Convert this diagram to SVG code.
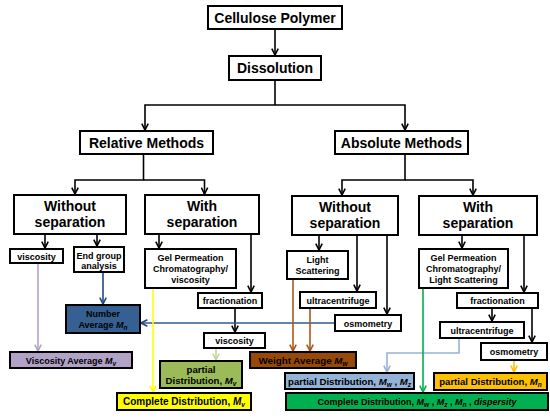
<svg xmlns="http://www.w3.org/2000/svg" width="550" height="420" viewBox="0 0 550 420">
<style>
text{font-family:"Liberation Sans",Arial,sans-serif;font-weight:bold;fill:#000;text-anchor:middle}
.big{font-size:14px}
.sm{font-size:9px}
.res{font-size:9.6px}
.box{fill:#fff;stroke:#000;stroke-width:2}
.c{fill:none;stroke-width:1.6}
.k{stroke:#000}
.i{font-style:italic}
.sub{font-style:italic;font-size:6.5px}
</style>
<defs>
<marker id="aK" viewBox="0 0 10 10" refX="9" refY="5" markerWidth="8" markerHeight="8" markerUnits="userSpaceOnUse" orient="auto"><path d="M1,1 L9,5 L1,9" fill="none" stroke="#000" stroke-width="2"/></marker>
<marker id="aP" viewBox="0 0 10 10" refX="9" refY="5" markerWidth="8" markerHeight="8" markerUnits="userSpaceOnUse" orient="auto"><path d="M1,1 L9,5 L1,9" fill="none" stroke="#B3A2C7" stroke-width="2"/></marker>
<marker id="aN" viewBox="0 0 10 10" refX="9" refY="5" markerWidth="8" markerHeight="8" markerUnits="userSpaceOnUse" orient="auto"><path d="M1,1 L9,5 L1,9" fill="none" stroke="#1F497D" stroke-width="2"/></marker>
<marker id="aY" viewBox="0 0 10 10" refX="9" refY="5" markerWidth="8" markerHeight="8" markerUnits="userSpaceOnUse" orient="auto"><path d="M1,1 L9,5 L1,9" fill="none" stroke="#FFFF00" stroke-width="2"/></marker>
<marker id="aLG" viewBox="0 0 10 10" refX="9" refY="5" markerWidth="8" markerHeight="8" markerUnits="userSpaceOnUse" orient="auto"><path d="M1,1 L9,5 L1,9" fill="none" stroke="#C3D69B" stroke-width="2"/></marker>
<marker id="aB" viewBox="0 0 10 10" refX="9" refY="5" markerWidth="8" markerHeight="8" markerUnits="userSpaceOnUse" orient="auto"><path d="M1,1 L9,5 L1,9" fill="none" stroke="#A8581C" stroke-width="2"/></marker>
<marker id="aLB" viewBox="0 0 10 10" refX="9" refY="5" markerWidth="8" markerHeight="8" markerUnits="userSpaceOnUse" orient="auto"><path d="M1,1 L9,5 L1,9" fill="none" stroke="#95B3D7" stroke-width="2"/></marker>
<marker id="aO" viewBox="0 0 10 10" refX="9" refY="5" markerWidth="8" markerHeight="8" markerUnits="userSpaceOnUse" orient="auto"><path d="M1,1 L9,5 L1,9" fill="none" stroke="#FFC000" stroke-width="2"/></marker>
<marker id="aG" viewBox="0 0 10 10" refX="9" refY="5" markerWidth="8" markerHeight="8" markerUnits="userSpaceOnUse" orient="auto"><path d="M1,1 L9,5 L1,9" fill="none" stroke="#00B050" stroke-width="2"/></marker>
</defs>
<rect width="550" height="420" fill="#fff"/>
<g id="connectors">
<path class="c k" d="M275,29.5 V55" marker-end="url(#aK)"/>
<path class="c k" d="M275,80 V105"/>
<path class="c k" d="M275,105 H145 V130" marker-end="url(#aK)"/>
<path class="c k" d="M275,105 H405 V130" marker-end="url(#aK)"/>
<path class="c k" d="M143.5,154 V180 H75 V194" marker-end="url(#aK)"/>
<path class="c k" d="M143.5,180 H204.5 V194" marker-end="url(#aK)"/>
<path class="c k" d="M405,154 V180 H342 V195" marker-end="url(#aK)"/>
<path class="c k" d="M405,180 H473 V195" marker-end="url(#aK)"/>
<path class="c k" d="M45,234 V248" marker-end="url(#aK)"/>
<path class="c k" d="M97,234 V246" marker-end="url(#aK)"/>
<path class="c k" d="M159,234 V248" marker-end="url(#aK)"/>
<path class="c k" d="M251,234 V292" marker-end="url(#aK)"/>
<path class="c k" d="M235,308 V332" marker-end="url(#aK)"/>
<path class="c k" d="M319,235 V250" marker-end="url(#aK)"/>
<path class="c k" d="M357,235 V291" marker-end="url(#aK)"/>
<path class="c k" d="M387,235 V314" marker-end="url(#aK)"/>
<path class="c k" d="M462,235 V248" marker-end="url(#aK)"/>
<path class="c k" d="M524,235 V292" marker-end="url(#aK)"/>
<path class="c k" d="M492,308 V321" marker-end="url(#aK)"/>
<path class="c k" d="M532,308 V342" marker-end="url(#aK)"/>
<path class="c" stroke="#B3A2C7" d="M38,263 V351" marker-end="url(#aP)"/>
<path class="c" stroke="#1F497D" d="M103,272 V304" marker-end="url(#aN)"/>
<path class="c" stroke="#2F5D8C" d="M335,323 H141" marker-end="url(#aN)"/>
<path class="c" stroke="#FFFF00" d="M153,288 V392" marker-end="url(#aY)"/>
<path class="c" stroke="#C3D69B" d="M216,348 V360" marker-end="url(#aLG)"/>
<path class="c" stroke="#A8581C" d="M293,279 V351" marker-end="url(#aB)"/>
<path class="c" stroke="#A8581C" d="M310,308 V351" marker-end="url(#aB)"/>
<path class="c" stroke="#95B3D7" d="M459,338 V353 H387 V372" marker-end="url(#aLB)"/>
<path class="c" stroke="#FFC000" d="M514,360 V372" marker-end="url(#aO)"/>
<path class="c" stroke="#00B050" d="M423,288 V392" marker-end="url(#aG)"/>
</g>
<g id="cellulose"><rect class="box" x="208" y="6" width="134" height="23"/><text class="big" x="275" y="22.5">Cellulose Polymer</text></g>
<g id="dissolution"><rect class="box" x="229" y="56" width="92" height="24"/><text class="big" x="275" y="73">Dissolution</text></g>
<g id="relative"><rect class="box" x="80" y="131" width="133" height="23"/><text class="big" x="146.5" y="147.5">Relative Methods</text></g>
<g id="absolute"><rect class="box" x="335" y="131" width="133" height="23"/><text class="big" x="401.5" y="147.5">Absolute Methods</text></g>
<g id="rel-without"><rect class="box" x="14" y="195" width="112" height="39"/><text class="big" x="70" y="211">Without</text><text class="big" x="70" y="227">separation</text></g>
<g id="rel-with"><rect class="box" x="145" y="195" width="114" height="39"/><text class="big" x="202" y="211">With</text><text class="big" x="202" y="227">separation</text></g>
<g id="abs-without"><rect class="box" x="292" y="196" width="106" height="39"/><text class="big" x="345" y="212">Without</text><text class="big" x="345" y="228">separation</text></g>
<g id="abs-with"><rect class="box" x="419" y="196" width="118" height="39"/><text class="big" x="478" y="212">With</text><text class="big" x="478" y="228">separation</text></g>
<g id="viscosity1"><rect class="box" x="10" y="249" width="53" height="14"/><text class="sm" x="36.5" y="259.5">viscosity</text></g>
<g id="endgroup"><rect class="box" x="74" y="247" width="50" height="25"/><text class="sm" x="99" y="258.5">End group</text><text class="sm" x="99" y="269">analysis</text></g>
<g id="gpc-visc"><rect class="box" x="145" y="249" width="91" height="39"/><text class="sm" x="190.5" y="260.5">Gel Permeation</text><text class="sm" x="190.5" y="271.5">Chromatography/</text><text class="sm" x="190.5" y="282.5">viscosity</text></g>
<g id="fract1"><rect class="box" x="198" y="293" width="64" height="15"/><text class="sm" x="230" y="304">fractionation</text></g>
<g id="viscosity2"><rect class="box" x="204" y="333" width="61" height="15"/><text class="sm" x="234.5" y="344">viscosity</text></g>
<g id="number-avg"><rect class="box" x="66" y="305" width="74" height="28" style="fill:#376092"/><text class="sm" x="103" y="317">Number</text><text class="sm" x="103" y="328">Average <tspan class="i">M</tspan><tspan class="sub" dy="2">n</tspan></text></g>
<g id="visc-avg"><rect class="box" x="10" y="352" width="122" height="16" style="fill:#B3A2C7"/><text class="sm" x="71" y="363.5">Viscosity Average <tspan class="i">M</tspan><tspan class="sub" dy="2">v</tspan></text></g>
<g id="partial-mv"><rect class="box" x="160" y="361" width="82" height="27" style="fill:#9BBB59"/><text class="res" x="201" y="372.5">partial</text><text class="res" x="201" y="383.5">Distribution, <tspan class="i">M</tspan><tspan class="sub" dy="2">v</tspan></text></g>
<g id="complete-mv"><rect class="box" x="117" y="393" width="134" height="17" style="fill:#FFFF00"/><text class="res" x="184" y="405" style="font-size:10px">Complete Distribution, <tspan class="i">M</tspan><tspan class="sub" dy="2">v</tspan></text></g>
<g id="weight-avg"><rect class="box" x="250" y="352" width="106" height="16" style="fill:#984807"/><text class="res" x="303" y="363.5" style="font-size:9.8px">Weight Average <tspan class="i">M</tspan><tspan class="sub" dy="2">w</tspan></text></g>
<g id="light"><rect class="box" x="287" y="251" width="61" height="28"/><text class="sm" x="317.5" y="262.5">Light</text><text class="sm" x="317.5" y="273.5">Scattering</text></g>
<g id="ultra1"><rect class="box" x="300" y="292" width="76" height="16"/><text class="sm" x="338" y="303.5">ultracentrifuge</text></g>
<g id="osmo1"><rect class="box" x="335" y="315" width="66" height="16"/><text class="sm" x="368" y="326.5">osmometry</text></g>
<g id="gpc-ls"><rect class="box" x="419" y="249" width="89" height="39"/><text class="sm" x="463.5" y="260.5">Gel Permeation</text><text class="sm" x="463.5" y="271.5">Chromatography/</text><text class="sm" x="463.5" y="282.5">Light Scattering</text></g>
<g id="fract2"><rect class="box" x="457" y="293" width="81" height="15"/><text class="sm" x="497.5" y="304">fractionation</text></g>
<g id="ultra2"><rect class="box" x="440" y="322" width="84" height="16"/><text class="sm" x="482" y="333.5">ultracentrifuge</text></g>
<g id="osmo2"><rect class="box" x="481" y="343" width="66" height="17"/><text class="sm" x="514" y="355">osmometry</text></g>
<g id="partial-mwmz"><rect class="box" x="285" y="373" width="129" height="16" style="fill:#95B3D7"/><text class="res" x="349.5" y="384.5">partial Distribution, <tspan class="i">M</tspan><tspan class="sub" dy="2">w</tspan><tspan dy="-2"> , </tspan><tspan class="i">M</tspan><tspan class="sub" dy="2">z</tspan></text></g>
<g id="partial-mn"><rect class="box" x="434" y="373" width="113" height="17" style="fill:#FFC000"/><text class="res" x="490.5" y="385">partial Distribution, <tspan class="i">M</tspan><tspan class="sub" dy="2">n</tspan></text></g>
<g id="complete-all"><rect class="box" x="286" y="393" width="262" height="17" style="fill:#00B050"/><text class="sm" x="417" y="405">Complete Distribution, <tspan class="i">M</tspan><tspan class="sub" dy="2">w</tspan><tspan dy="-2"> , </tspan><tspan class="i">M</tspan><tspan class="sub" dy="2">z</tspan><tspan dy="-2"> , </tspan><tspan class="i">M</tspan><tspan class="sub" dy="2">n</tspan><tspan dy="-2"> , </tspan><tspan class="i">dispersity</tspan></text></g>
</svg>
